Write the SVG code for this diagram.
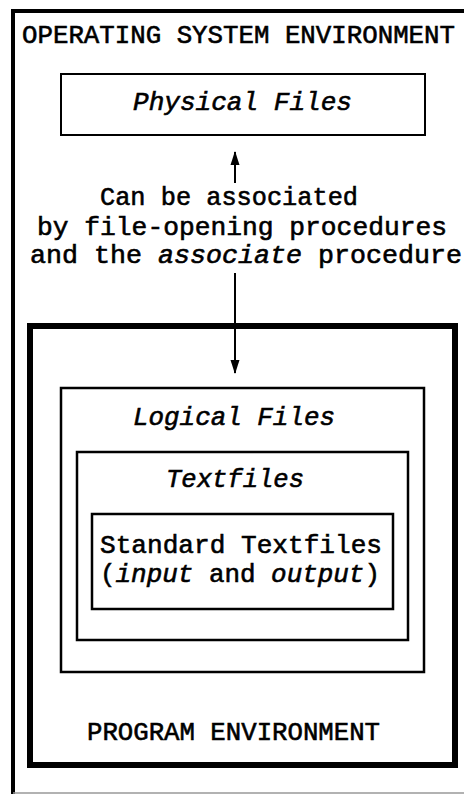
<svg xmlns="http://www.w3.org/2000/svg" width="464" height="794" viewBox="0 0 464 794">
<defs>
<style>
text{font-family:"Liberation Mono","DejaVu Sans Mono",monospace;font-size:26px;fill:#000;stroke:#000;stroke-width:0.6}
.it{font-style:italic}
.box{fill:none;stroke:#000}
.conn{stroke:#000;stroke-width:2;fill:none}
</style>
<marker id="ah" viewBox="0 0 14 10" refX="13" refY="5" markerWidth="14" markerHeight="10" markerUnits="userSpaceOnUse" orient="auto">
<path d="M0,0.5 L14,5 L0,9.5 Z" fill="#000"/>
</marker>
</defs>
<rect width="464" height="794" fill="#fff"/>
<g id="os-environment">
<path class="box" d="M464,11 H13 V794" stroke-width="4"/>
<line x1="13" y1="793" x2="464" y2="793" stroke="#999" stroke-width="1.5"/>
<text x="22" y="43" textLength="433" lengthAdjust="spacingAndGlyphs">OPERATING SYSTEM ENVIRONMENT</text>
</g>
<g id="physical-files">
<rect class="box" x="61" y="74" width="364" height="61" stroke-width="2"/>
<text class="it" x="133" y="110" textLength="219" lengthAdjust="spacingAndGlyphs">Physical Files</text>
</g>
<g id="association-label">
<text x="100" y="205" textLength="258" lengthAdjust="spacingAndGlyphs">Can be associated</text>
<text x="37" y="235" textLength="410" lengthAdjust="spacingAndGlyphs">by file-opening procedures</text>
<text x="30" y="263" textLength="432" lengthAdjust="spacingAndGlyphs">and the <tspan class="it">associate</tspan> procedure</text>
</g>
<g id="connectors">
<line class="conn" x1="235" y1="183" x2="235" y2="152" marker-end="url(#ah)"/>
<line class="conn" x1="235" y1="273" x2="235" y2="373" marker-end="url(#ah)"/>
</g>
<g id="program-environment">
<rect class="box" x="30" y="326" width="425" height="439" stroke-width="6"/>
<text x="87" y="740" textLength="293" lengthAdjust="spacingAndGlyphs">PROGRAM ENVIRONMENT</text>
</g>
<g id="logical-files">
<rect class="box" x="61" y="388" width="363" height="284" stroke-width="2.5"/>
<text class="it" x="133" y="425" textLength="202" lengthAdjust="spacingAndGlyphs">Logical Files</text>
</g>
<g id="textfiles">
<rect class="box" x="77" y="452" width="331" height="188" stroke-width="2.5"/>
<text class="it" x="166" y="487" textLength="138" lengthAdjust="spacingAndGlyphs">Textfiles</text>
</g>
<g id="standard-textfiles">
<rect class="box" x="92" y="514" width="301" height="95" stroke-width="2.5"/>
<text x="100" y="553" textLength="282" lengthAdjust="spacingAndGlyphs">Standard Textfiles</text>
<text x="100" y="582" textLength="280" lengthAdjust="spacingAndGlyphs">(<tspan class="it">input</tspan> and <tspan class="it">output</tspan>)</text>
</g>
</svg>
